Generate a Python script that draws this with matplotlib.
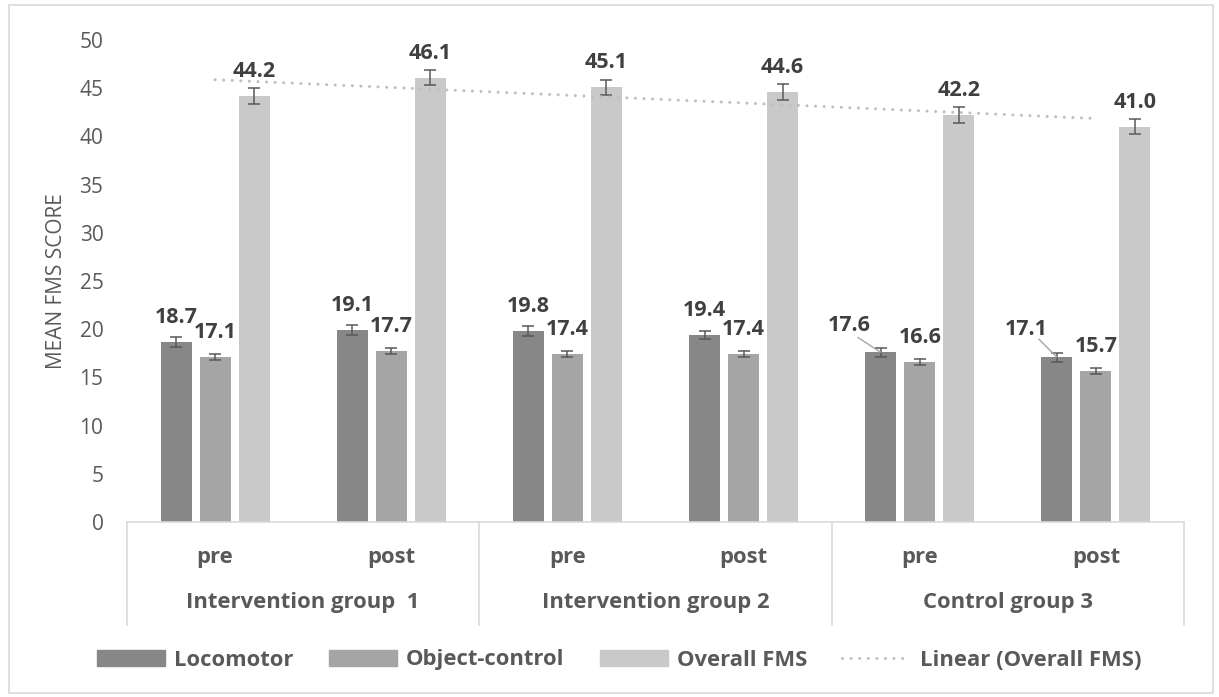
import numpy as np
import matplotlib
matplotlib.use('Agg')
import matplotlib.pyplot as plt
import matplotlib.transforms as mtransforms
from matplotlib.lines import Line2D
from matplotlib.patches import Rectangle

plt.rcParams['font.family'] = ['Open Sans', 'DejaVu Sans']

# data
phases = ['pre', 'post', 'pre', 'post', 'pre', 'post']
groups = ['Intervention group  1', 'Intervention group 2', 'Control group 3']
locomotor = [18.7, 19.9, 19.8, 19.4, 17.6, 17.1]
object_control = [17.1, 17.7, 17.4, 17.4, 16.6, 15.7]
overall_fms = [44.2, 46.1, 45.1, 44.6, 42.2, 41.0]
locomotor_err = [0.5, 0.5, 0.5, 0.45, 0.5, 0.47]
object_err = [0.3, 0.3, 0.3, 0.3, 0.3, 0.3]
overall_err = [0.8, 0.8, 0.8, 0.8, 0.8, 0.8]
locomotor_text = ['18.7', '19.1', '19.8', '19.4', '17.6', '17.1']
object_text = ['17.1', '17.7', '17.4', '17.4', '16.6', '15.7']
overall_text = ['44.2', '46.1', '45.1', '44.6', '42.2', '41.0']

W, H = 1219, 697
fig = plt.figure(figsize=(W / 100, H / 100), dpi=100)
ax = fig.add_axes([127 / W, 1 - 522 / H, 1057 / W, 482 / H])

x = np.arange(len(phases))
w = 0.176
off = 0.2216
err_kw = dict(ecolor='#595959', elinewidth=1.1, capsize=4.3, capthick=1.1)

ax.bar(x - off, locomotor, w, color='#878787', yerr=locomotor_err, error_kw=err_kw, zorder=2)
ax.bar(x, object_control, w, color='#A5A5A5', yerr=object_err, error_kw=err_kw, zorder=2)
ax.bar(x + off, overall_fms, w, color='#C9C9C9', yerr=overall_err, error_kw=err_kw, zorder=2)

# linear trendline of overall FMS
coef = np.polyfit(x, overall_fms, 1)
ax.plot(x, np.polyval(coef, x), color='#BFBFBF', lw=2.2, linestyle=(0, (0.01, 2.8)),
        dash_capstyle='round', zorder=3)

lab_kw = dict(textcoords='offset pixels', fontsize=15.5, fontweight='bold', color='#404040')

def put_labels(xs, vals, texts, moved=None):
    for i in range(len(xs)):
        if moved and i in moved:
            dx, dy, lx, ly = moved[i]
            ax.annotate('', xy=(xs[i], vals[i]), xytext=(lx, ly), textcoords='offset pixels',
                        arrowprops=dict(arrowstyle='-', color='#A6A6A6', lw=1,
                                        shrinkA=0, shrinkB=0))
            ax.annotate(texts[i], xy=(xs[i], vals[i]), xytext=(dx, dy),
                        ha='center', va='center', **lab_kw)
        else:
            ax.annotate(texts[i], xy=(xs[i], vals[i]), xytext=(0, 19),
                        ha='center', va='baseline', **lab_kw)

put_labels(x - off, locomotor, locomotor_text,
           moved={4: (-31, 27, -23, 15), 5: (-31, 28, -18, 18)})
put_labels(x, object_control, object_text)
put_labels(x + off, overall_fms, overall_text)

ax.set_xlim(-0.5, 5.5)
ax.set_ylim(0, 50)
ax.set_yticks(range(0, 51, 5))
ax.set_xticks([])
ax.tick_params(axis='y', length=0, pad=17, labelsize=15, labelcolor='#595959')
for s in ['top', 'right', 'left']:
    ax.spines[s].set_visible(False)
ax.spines['bottom'].set_color('#D9D9D9')
ax.spines['bottom'].set_linewidth(1.2)

# two level category axis
trans = mtransforms.blended_transform_factory(ax.transData, ax.transAxes)
for i, p in enumerate(phases):
    ax.text(i, -0.085, p, transform=trans, ha='center', va='baseline',
            fontsize=15.8, fontweight='bold', color='#595959')
for i, g in enumerate(groups):
    ax.text(2 * i + 0.5, -0.178, g, transform=trans, ha='center', va='baseline',
            fontsize=15.8, fontweight='bold', color='#595959')
for sx in [-0.5, 1.5, 3.5, 5.5]:
    ax.add_line(Line2D([sx, sx], [0, -0.2137], transform=trans, color='#D9D9D9',
                       lw=1.2, clip_on=False))

fig.text(57 / W, 1 - 281 / H, 'MEAN FMS SCORE', rotation=90, ha='center', va='center',
         fontsize=15, color='#595959')

handles = [Rectangle((0, 0), 1, 1, color='#878787'),
           Rectangle((0, 0), 1, 1, color='#A5A5A5'),
           Rectangle((0, 0), 1, 1, color='#C9C9C9'),
           Line2D([], [], color='#BFBFBF', lw=2.2, linestyle=(0, (0.01, 2.8)),
                  dash_capstyle='round')]
names = ['Locomotor', 'Object-control', 'Overall FMS', 'Linear (Overall FMS)']
fig.legend(handles, names, loc='center', bbox_to_anchor=(619 / W, 1 - 660 / H), ncol=4,
           frameon=False, prop={'size': 15.8, 'weight': 'bold'}, labelcolor='#595959',
           handlelength=3.1, handletextpad=0.42, columnspacing=1.6)

fig.patches.append(Rectangle((9 / W, 4 / H), 1204 / W, 688 / H, transform=fig.transFigure,
                             fill=False, edgecolor='#D9D9D9', lw=1.2))

fig.savefig('out.png', dpi=100)
